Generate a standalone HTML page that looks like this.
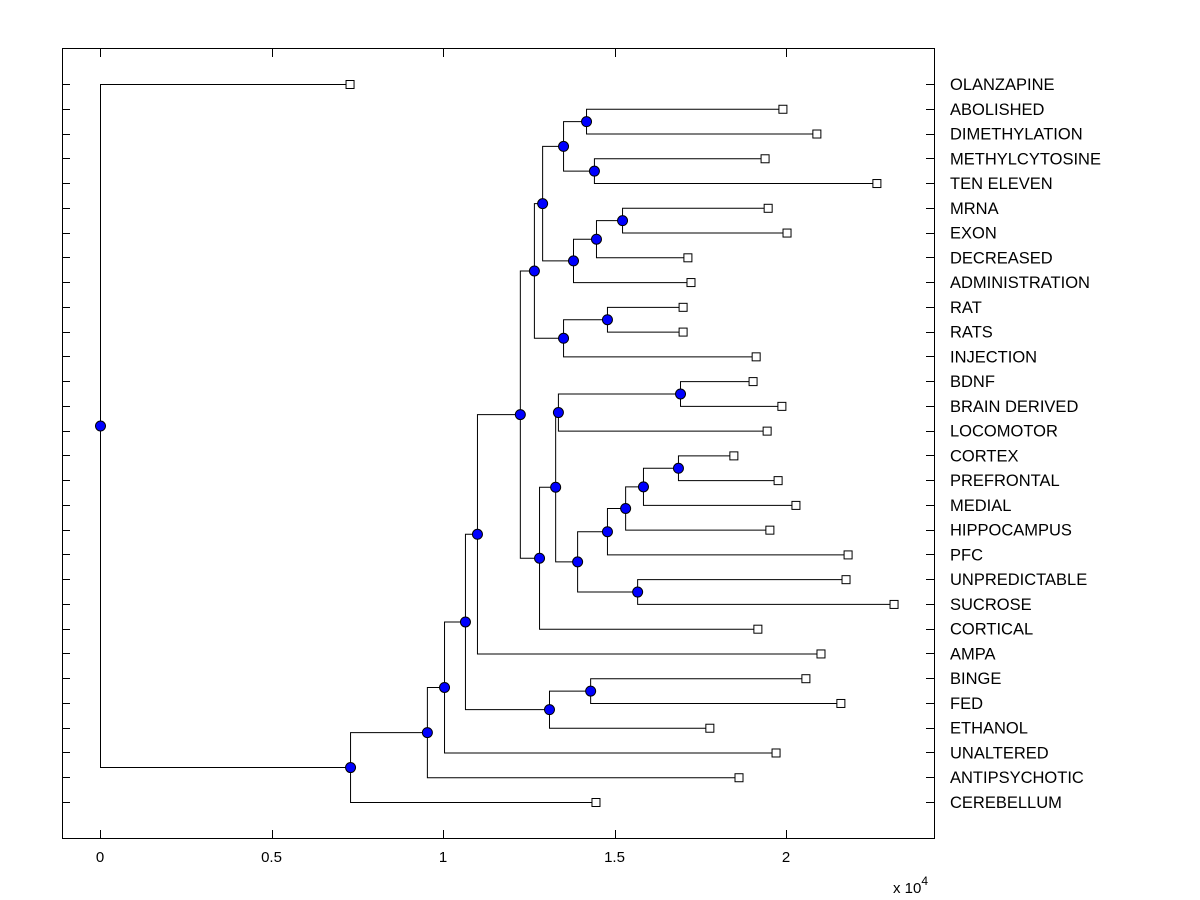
<!DOCTYPE html>
<html><head><meta charset="utf-8"><style>
html,body{margin:0;padding:0;background:#fff;}
svg{display:block;font-family:"Liberation Sans",Arial,sans-serif;}
</style></head><body>
<svg id="chart" width="1200" height="900">
<rect x="62.5" y="48.5" width="872" height="790" fill="#fff" stroke="#000" stroke-width="1"/>
<g id="ticks"></g>
<g id="links"></g>
<g id="marks"></g>
<g id="labels"></g>
<text x="893" y="893" font-size="15">x 10<tspan dy="-8" font-size="12">4</tspan></text>
</svg>
<script>
const leafNames=["OLANZAPINE","ABOLISHED","DIMETHYLATION","METHYLCYTOSINE","TEN ELEVEN","MRNA","EXON","DECREASED","ADMINISTRATION","RAT","RATS","INJECTION","BDNF","BRAIN DERIVED","LOCOMOTOR","CORTEX","PREFRONTAL","MEDIAL","HIPPOCAMPUS","PFC","UNPREDICTABLE","SUCROSE","CORTICAL","AMPA","BINGE","FED","ETHANOL","UNALTERED","ANTIPSYCHOTIC","CEREBELLUM"];
const leafValues=[0.729,1.991,2.090,1.939,2.265,1.948,2.003,1.714,1.723,1.700,1.700,1.913,1.904,1.988,1.945,1.848,1.977,2.029,1.953,2.181,2.175,2.315,1.918,2.102,2.058,2.160,1.778,1.971,1.863,1.446];
// internal nodes: [childA, childB] ; indices <30 are leaves, >=30 are internal nodes (30 + position)
const nodeChildren=[[1,2],[3,4],[30,31],[5,6],[33,7],[34,8],[32,35],[9,10],[37,11],[36,38],[12,13],[40,14],[15,16],[42,17],[43,18],[44,19],[20,21],[45,46],[41,47],[48,22],[39,49],[50,23],[24,25],[52,26],[51,53],[54,27],[55,28],[56,29],[0,57]];
const nodeValues=[1.417,1.440,1.350,1.522,1.446,1.379,1.289,1.478,1.350,1.265,1.691,1.335,1.685,1.583,1.531,1.478,1.566,1.391,1.327,1.280,1.224,1.099,1.429,1.309,1.064,1.003,0.953,0.729,0];
const xTickValues=[0,0.5,1,1.5,2];
const xTickLabels=["0","0.5","1","1.5","2"];

const NS="http://www.w3.org/2000/svg";
const xs=v=>100+v*343;
const ys=i=>84+i*(802-84)/29;
function mk(tag,attrs,parent){const e=document.createElementNS(NS,tag);for(const k in attrs)e.setAttribute(k,attrs[k]);parent.appendChild(e);return e;}
const gT=document.getElementById('ticks'),gL=document.getElementById('links'),gM=document.getElementById('marks'),gLab=document.getElementById('labels');

xTickValues.forEach((v,i)=>{
  const x=Math.round(xs(v))+0.5;
  let t=mk('line',{x1:x,x2:x,y1:838,y2:830,stroke:'#000'},gT);
  
  
  t=mk('line',{x1:x,x2:x,y1:49,y2:57,stroke:'#000'},gT);
  
  
  const lab=mk('text',{x:xs(v),y:862,'font-size':15,'text-anchor':'middle'},gT);
  lab.textContent=xTickLabels[i];
  
  
});

const pos={};
leafNames.forEach((n,i)=>{pos[i]={x:xs(leafValues[i]),y:ys(i)};});
nodeChildren.forEach((c,k)=>{pos[30+k]={x:xs(nodeValues[k]),y:(pos[c[0]].y+pos[c[1]].y)/2};});

nodeChildren.forEach((c,k)=>{
  const p=pos[30+k],a=pos[c[0]],b=pos[c[1]];
  const path=mk('path',{d:`M${a.x},${a.y+0.5}H${p.x+0.5}V${b.y+0.5}H${b.x}`,fill:'none',stroke:'#000','stroke-width':1},gL);
  
  
});

leafNames.forEach((n,i)=>{
  const y=Math.round(ys(i))+0.5;
  let t=mk('line',{x1:62,x2:70,y1:y,y2:y,stroke:'#000'},gT);
  
  
  t=mk('line',{x1:926,x2:934,y1:y,y2:y,stroke:'#000'},gT);
  
  
  const p=pos[i];
  const r=mk('rect',{x:p.x-4,y:p.y-3.5,width:8,height:8,fill:'#fff',stroke:'#000'},gM);
  
  
  const lab=mk('text',{x:950,y:ys(i)+6,'font-size':16.5},gLab);
  lab.textContent=n;
  
  
});
nodeChildren.forEach((c,k)=>{
  const p=pos[30+k];
  const ci=mk('circle',{cx:p.x+0.5,cy:p.y+0.5,r:5,fill:'#0000ff',stroke:'#000','stroke-width':1},gM);
  
  
});
</script>
</body></html>
